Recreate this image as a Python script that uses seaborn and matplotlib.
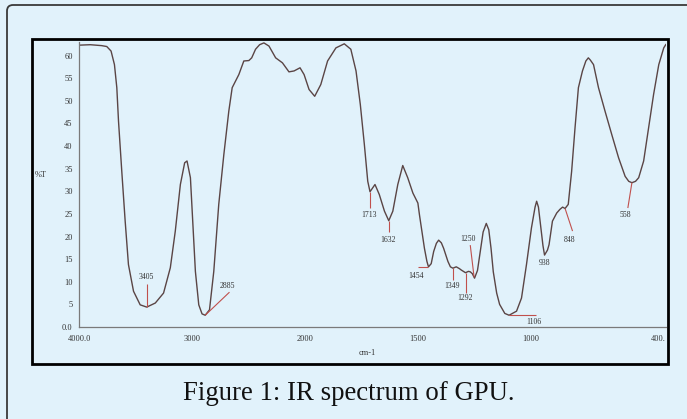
import numpy as np
import pandas as pd
import matplotlib
matplotlib.use("Agg")
import matplotlib.pyplot as plt
import seaborn as sns
from matplotlib.patches import FancyBboxPatch, Rectangle
from matplotlib.transforms import IdentityTransform

# ---------------- data ----------------
wavenumber = [4000, 3900, 3800, 3754, 3716, 3686, 3665, 3650, 3621, 3591, 3562, 3517,
              3458, 3400, 3324, 3251, 3191, 3147, 3102, 3064, 3043, 3013, 2993, 2969,
              2939, 2910, 2882, 2844, 2806, 2762, 2717, 2673, 2643, 2584, 2540, 2495,
              2470, 2436, 2400, 2362, 2317, 2258, 2198, 2140, 2095, 2042, 2006, 1981,
              1956, 1929, 1899, 1862, 1825, 1796, 1773, 1754, 1736, 1721, 1711, 1689,
              1670, 1647, 1628, 1610, 1588, 1566, 1544, 1521, 1499, 1492, 1470, 1459,
              1452, 1440, 1429, 1417, 1407, 1395, 1385, 1366, 1355, 1344, 1329, 1315,
              1307, 1288, 1275, 1267, 1258, 1248, 1235, 1222, 1210, 1196, 1185, 1175,
              1165, 1150, 1137, 1114, 1095, 1062, 1040, 1018, 996, 980, 973, 965, 956,
              945, 938, 925, 918, 903, 884, 870, 858, 847, 833, 818, 803, 788, 770, 755,
              744, 735, 721, 699, 670, 640, 610, 581, 565, 551, 535, 521, 499, 477, 455,
              432, 410, 400]
transmittance = [62.3, 62.4, 62.2, 62.0, 61.0, 58.0, 52.9, 45.5, 34.4, 23.4, 13.8, 7.9,
                 4.9, 4.4, 5.3, 7.5, 13.1, 21.2, 31.5, 36.3, 36.7, 33.0, 23.4, 12.3,
                 4.9, 2.9, 2.6, 3.8, 12.3, 27.1, 38.1, 47.7, 52.9, 55.8, 58.8, 58.9,
                 59.5, 61.4, 62.4, 62.8, 62.1, 59.5, 58.4, 56.4, 56.6, 57.3, 55.8, 52.5,
                 51.0, 53.6, 58.8, 61.7, 62.6, 61.4, 56.6, 49.2, 40.3, 32.2, 29.9, 31.5,
                 29.3, 25.6, 23.5, 25.6, 31.5, 35.7, 33.0, 29.6, 27.4, 24.8, 17.4, 14.5,
                 13.3, 14.0, 16.7, 18.5, 19.2, 18.6, 17.4, 14.5, 13.3, 13.0, 13.3, 12.9,
                 12.6, 12.0, 12.3, 12.2, 11.8, 10.8, 12.5, 17.0, 21.0, 22.9, 21.5, 17.4,
                 12.2, 7.5, 5.0, 3.0, 2.6, 3.5, 6.4, 13.8, 21.9, 26.5, 27.8, 26.5, 22.6,
                 18.0, 15.9, 17.0, 18.2, 23.4, 25.2, 26.0, 26.5, 26.2, 27.1, 34.4, 44.0,
                 52.9, 56.6, 58.8, 59.5, 59.0, 58.0, 52.9, 47.7, 42.5, 37.4, 33.3, 32.2,
                 31.9, 32.2, 33.0, 36.7, 44.0, 51.4, 58.0, 61.7, 62.5]

peak_labels = ["3405", "2885", "1713", "1632", "1454", "1349", "1292", "1250",
               "1106", "938", "848", "558"]
peak_wn = [3400, 2882, 1711, 1628, 1452, 1344, 1288, 1250, 1095, 938, 847, 551]

x_ticks = [4000, 3000, 2000, 1500, 1000, 500, 400]
x_ticklabels = ["4000.0", "3000", "2000", "1500", "1000", "", "400."]
y_ticks = [0, 5, 10, 15, 20, 25, 30, 35, 40, 45, 50, 55, 60]
y_ticklabels = ["0.0", "5", "10", "15", "20", "25", "30", "35", "40", "45", "50", "55", "60"]

# leader-line ends and label anchors (layout only, in axis units)
leader_end = [(3400, 9.5), (2667, 7.7), (1711, 26.3), (1628, 21.0), (1499, 13.3),
              (1344, 10.4), (1288, 7.5), (1267, 18.1), (976, 2.6), None,
              (814, 21.2), (569, 26.3)]
label_pos = [(3404, 11.1), (2684, 9.1), (1716, 24.8), (1631, 19.2), (1507, 11.3),
             (1347, 9.1), (1289, 6.4), (1276, 19.5), (987, 1.1), (938, 14.2),
             (827, 19.2), (582, 24.8)]

# ---------------- style ----------------
BG = "#e1f2fb"
CURVE = "#5a4545"
RED = "#c0504d"
sns.set_style("white")
plt.rcParams["font.family"] = ["Liberation Serif", "DejaVu Serif"]

W, H = 687, 419
fig = plt.figure(figsize=(W / 100, H / 100), dpi=100)
fig.patch.set_facecolor(BG)

# axes placed in pixel terms
ax_l, ax_r, ax_b, ax_t = 79, 666, 327, 42
ax = fig.add_axes([ax_l / W, 1 - ax_b / H, (ax_r - ax_l) / W, (ax_b - ax_t) / H])
ax.set_facecolor(BG)

df = pd.DataFrame({"wavenumber": wavenumber, "T": transmittance})
sns.lineplot(data=df, x="wavenumber", y="T", ax=ax, sort=False, estimator=None,
             color=CURVE, linewidth=1.0)


# spectrometer-style axis: scale doubles below 2000 cm-1
def fwd(x):
    x = np.asarray(x, dtype=float)
    return np.where(x >= 2000, x, 2 * x - 2000)


def inv(u):
    u = np.asarray(u, dtype=float)
    return np.where(u >= 2000, u, (u + 2000) / 2)


ax.set_xscale("function", functions=(fwd, inv))
ax.set_xlim(4000, 400)
ax.set_ylim(0, 63)

ax.set_xticks(x_ticks)
ax.set_xticklabels(x_ticklabels)
ax.set_yticks(y_ticks)
ax.set_yticklabels(y_ticklabels)
ax.xaxis.set_minor_locator(matplotlib.ticker.NullLocator())
ax.yaxis.set_minor_locator(matplotlib.ticker.NullLocator())
for lab in ax.get_xticklabels():
    if lab.get_text() == "400.":
        lab.set_horizontalalignment("right")
ax.set_xlabel("")
ax.set_ylabel("")
ax.tick_params(axis="both", labelsize=6, colors="#333333", length=2.5, width=0.7,
               pad=2, direction="out")
ax.tick_params(axis="x", pad=3)
for s in ["top", "right"]:
    ax.spines[s].set_visible(False)
for s in ["left", "bottom"]:
    ax.spines[s].set_color("#7a7a7a")
    ax.spines[s].set_linewidth(0.9)

# peak annotations
x_arr = np.array(wavenumber[::-1], dtype=float)
y_arr = np.array(transmittance[::-1], dtype=float)
for lab, wn, end, pos in zip(peak_labels, peak_wn, leader_end, label_pos):
    yv = float(np.interp(wn, x_arr, y_arr))
    if end is not None:
        ax.plot([wn, end[0]], [yv, end[1]], color=RED, lw=0.8, solid_capstyle="butt")
    ax.text(pos[0], pos[1], lab, fontsize=5.6, color="#333333", ha="center", va="center")

fig.text(35 / W, 1 - 175 / H, "%T", fontsize=6, color="#333333", ha="left", va="center")
fig.text(367 / W, 1 - 353 / H, "cm-1", fontsize=6, color="#333333", ha="center", va="center")

# frames
outer = FancyBboxPatch((7, -20), 720, H - 5 + 20, boxstyle="round,pad=0,rounding_size=6",
                       transform=IdentityTransform(), facecolor="none",
                       edgecolor="#3a3a3a", linewidth=1.3)
fig.patches.append(outer)
inner = Rectangle((32, H - 364), 668 - 32, 364 - 39, transform=IdentityTransform(),
                  facecolor="none", edgecolor="black", linewidth=2.0)
fig.patches.append(inner)

fig.text(349 / W, 1 - 393 / H, "Figure 1: IR spectrum of GPU.", fontsize=19.3,
         color="#111111", ha="center", va="center",
         family=["Liberation Serif", "DejaVu Serif"])

fig.savefig("out.png", dpi=100, facecolor=BG)
